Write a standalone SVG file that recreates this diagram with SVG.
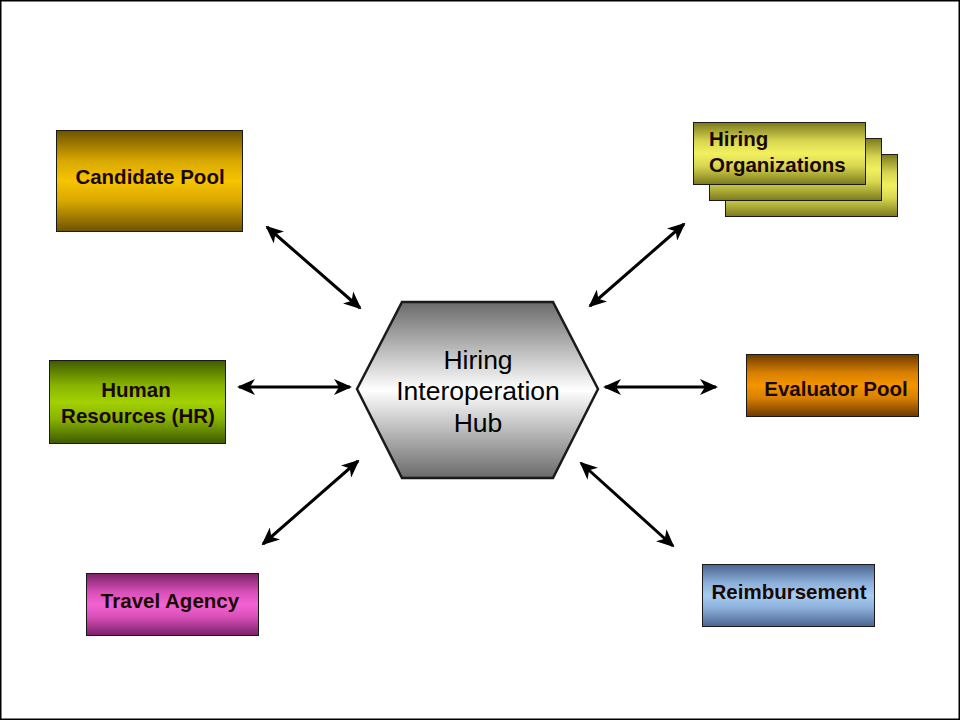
<svg xmlns="http://www.w3.org/2000/svg" width="960" height="720" viewBox="0 0 960 720">
<style>
.box{stroke:#1a1a1a;stroke-width:1}
.lbl{font-family:"Liberation Sans",Arial,sans-serif;font-weight:bold;font-size:20.5px;fill:#1a0800}
.hub{font-family:"Liberation Sans",Arial,sans-serif;font-size:26.5px;fill:#000}
.conn{stroke:#000;stroke-width:3;fill:none;marker-start:url(#ah);marker-end:url(#ah)}
</style>
<defs>
<marker id="ah" markerUnits="userSpaceOnUse" markerWidth="18" markerHeight="16" refX="16" refY="8" orient="auto-start-reverse" viewBox="0 0 18 16">
<path d="M18,8 L0,0 L5,8 L0,16 Z" fill="#000"/>
</marker>
<linearGradient id="gGold" x1="0" y1="0" x2="0" y2="1">
<stop offset="0" stop-color="#6e5200"/><stop offset="0.3" stop-color="#d8a800"/><stop offset="0.5" stop-color="#f7c400"/><stop offset="0.7" stop-color="#d8a800"/><stop offset="1" stop-color="#6e5200"/>
</linearGradient>
<linearGradient id="gOlive" x1="0" y1="0" x2="0" y2="1">
<stop offset="0" stop-color="#7a7a1c"/><stop offset="0.3" stop-color="#d8d650"/><stop offset="0.5" stop-color="#f2f060"/><stop offset="0.7" stop-color="#d8d650"/><stop offset="1" stop-color="#7a7a1c"/>
</linearGradient>
<linearGradient id="gGreen" x1="0" y1="0" x2="0" y2="1">
<stop offset="0" stop-color="#3f5a00"/><stop offset="0.3" stop-color="#88b400"/><stop offset="0.5" stop-color="#a2d000"/><stop offset="0.7" stop-color="#88b400"/><stop offset="1" stop-color="#3f5a00"/>
</linearGradient>
<linearGradient id="gOrange" x1="0" y1="0" x2="0" y2="1">
<stop offset="0" stop-color="#6e3a00"/><stop offset="0.3" stop-color="#d88000"/><stop offset="0.5" stop-color="#f59400"/><stop offset="0.7" stop-color="#d88000"/><stop offset="1" stop-color="#6e3a00"/>
</linearGradient>
<linearGradient id="gPink" x1="0" y1="0" x2="0" y2="1">
<stop offset="0" stop-color="#7a2068"/><stop offset="0.3" stop-color="#d850b8"/><stop offset="0.5" stop-color="#f462d4"/><stop offset="0.7" stop-color="#d850b8"/><stop offset="1" stop-color="#7a2068"/>
</linearGradient>
<linearGradient id="gBlue" x1="0" y1="0" x2="0" y2="1">
<stop offset="0" stop-color="#4a6490"/><stop offset="0.3" stop-color="#8cb0da"/><stop offset="0.5" stop-color="#a6ccf2"/><stop offset="0.7" stop-color="#8cb0da"/><stop offset="1" stop-color="#4a6490"/>
</linearGradient>
<linearGradient id="gGray" x1="0" y1="0" x2="0" y2="1">
<stop offset="0" stop-color="#6a6a6a"/><stop offset="0.5" stop-color="#ffffff"/><stop offset="1" stop-color="#6a6a6a"/>
</linearGradient>
</defs>
<rect x="0" y="0" width="960" height="720" fill="#fff"/>
<rect x="0.75" y="0.75" width="958.5" height="718.5" fill="none" stroke="#000" stroke-width="1.5"/>

<g id="connectors">
<line class="conn" x1="267" y1="227" x2="360" y2="308"/>
<line class="conn" x1="684" y1="224" x2="590" y2="306"/>
<line class="conn" x1="239" y1="387" x2="350" y2="387"/>
<line class="conn" x1="605" y1="387" x2="716" y2="387"/>
<line class="conn" x1="263" y1="544" x2="358" y2="461"/>
<line class="conn" x1="581" y1="463" x2="673" y2="546"/>
</g>

<g id="hub">
<polygon points="357,389 402,302 553,302 598,389 553,478 402,478" fill="url(#gGray)" stroke="#1a1a1a" stroke-width="2.5"/>
<text class="hub" text-anchor="middle" x="478" y="369">Hiring</text>
<text class="hub" text-anchor="middle" x="478" y="400">Interoperation</text>
<text class="hub" text-anchor="middle" x="478" y="432">Hub</text>
</g>

<g id="candidate-pool">
<rect class="box" x="56.5" y="130.5" width="186" height="101" fill="url(#gGold)"/>
<text class="lbl" text-anchor="middle" x="150" y="184">Candidate Pool</text>
</g>

<g id="hiring-organizations">
<rect class="box" x="725.5" y="154.5" width="172" height="62" fill="url(#gOlive)"/>
<rect class="box" x="709.5" y="138.5" width="172" height="62" fill="url(#gOlive)"/>
<rect class="box" x="693.5" y="122.5" width="172" height="62" fill="url(#gOlive)"/>
<text class="lbl" x="709" y="146">Hiring</text>
<text class="lbl" x="709" y="172">Organizations</text>
</g>

<g id="human-resources">
<rect class="box" x="49.5" y="360.5" width="176" height="83" fill="url(#gGreen)"/>
<text class="lbl" text-anchor="middle" x="136" y="397">Human</text>
<text class="lbl" text-anchor="middle" x="138" y="423">Resources (HR)</text>
</g>

<g id="evaluator-pool">
<rect class="box" x="746.5" y="354.5" width="172" height="62" fill="url(#gOrange)"/>
<text class="lbl" text-anchor="middle" x="836" y="396">Evaluator Pool</text>
</g>

<g id="travel-agency">
<rect class="box" x="86.5" y="573.5" width="172" height="62" fill="url(#gPink)"/>
<text class="lbl" text-anchor="middle" x="170" y="608">Travel Agency</text>
</g>

<g id="reimbursement">
<rect class="box" x="702.5" y="564.5" width="172" height="62" fill="url(#gBlue)"/>
<text class="lbl" text-anchor="middle" x="789" y="599">Reimbursement</text>
</g>
</svg>
